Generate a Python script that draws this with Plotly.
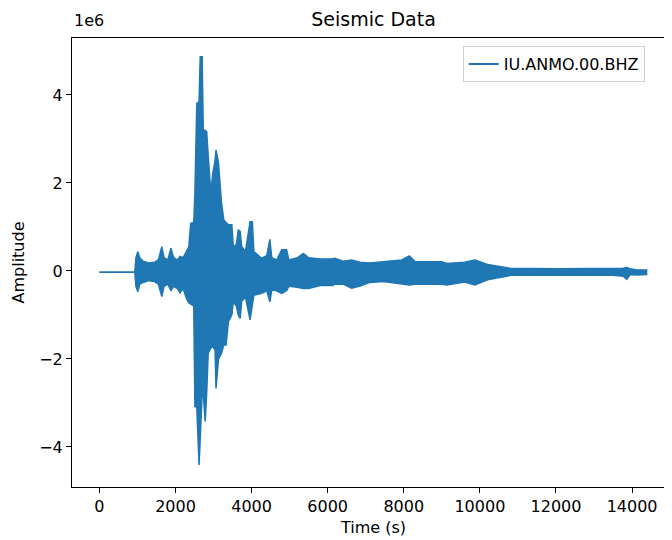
import plotly.graph_objects as go

# Envelope of the trace (time in s, amplitude in units of 1e6)
times = [0, 930, 960, 1010, 1060, 1150, 1300, 1450, 1550, 1640, 1700, 1800, 1880,
         1950, 2050, 2120, 2200, 2300, 2350, 2400, 2480, 2510, 2560, 2620, 2650,
         2700, 2730, 2780, 2820, 2860, 2930, 2980, 3040, 3065, 3130, 3210, 3270,
         3330, 3390, 3480, 3520, 3600, 3650, 3700, 3740, 3840, 3960, 4020, 4060,
         4265, 4400, 4480, 4530, 4660, 4790, 4920, 4980, 5200, 5360, 5500, 5800,
         6130, 6190, 6400, 6630, 6850, 7110, 7460, 7945, 8145, 8300, 9000, 9130,
         9600, 9870, 10200, 10700, 10800, 12000, 13500, 13770, 13860, 13950,
         14100, 14400]
upper = [-0.03, -0.03, 0.30, 0.44, 0.30, 0.22, 0.18, 0.20, 0.25, 0.55, 0.30, 0.25,
         0.52, 0.30, 0.25, 0.33, 0.30, 0.45, 0.55, 1.08, 1.10, 1.77, 3.81, 3.85,
         4.87, 4.87, 3.20, 3.20, 3.17, 2.60, 1.77, 2.22, 2.50, 2.75, 2.45, 1.54,
         1.16, 1.10, 1.05, 1.05, 0.55, 0.60, 0.93, 0.90, 0.55, 0.45, 1.12, 1.12,
         0.44, 0.29, 0.35, 0.72, 0.30, 0.25, 0.48, 0.48, 0.25, 0.30, 0.40, 0.30,
         0.27, 0.28, 0.29, 0.22, 0.25, 0.20, 0.18, 0.21, 0.25, 0.34, 0.21, 0.21,
         0.17, 0.20, 0.25, 0.15, 0.08, 0.06, 0.05, 0.06, 0.06, 0.08, 0.05, 0.03,
         0.02]
lower = [-0.03, -0.03, -0.35, -0.47, -0.30, -0.26, -0.22, -0.24, -0.30, -0.58,
         -0.35, -0.30, -0.45, -0.35, -0.40, -0.50, -0.40, -0.65, -0.72, -0.75,
         -0.80, -3.08, -3.10, -4.41, -3.80, -2.80, -2.78, -3.42, -2.78, -1.87,
         -1.75, -1.72, -1.80, -2.67, -2.00, -1.87, -1.68, -1.68, -1.15, -1.00,
         -0.70, -0.80, -1.00, -1.08, -0.68, -0.60, -1.11, -0.70, -0.55, -0.51,
         -0.45, -0.70, -0.43, -0.45, -0.51, -0.45, -0.35, -0.37, -0.40, -0.40,
         -0.33, -0.33, -0.30, -0.30, -0.39, -0.34, -0.26, -0.24, -0.30, -0.32,
         -0.30, -0.30, -0.32, -0.25, -0.32, -0.20, -0.12, -0.10, -0.10, -0.10,
         -0.12, -0.19, -0.08, -0.09, -0.08]

x_ticks = [0, 2000, 4000, 6000, 8000, 10000, 12000, 14000]
y_ticks = [-4, -2, 0, 2, 4]

color = '#1f77b4'
font = 'DejaVu Sans'

fig = go.Figure()

fig.add_trace(go.Scatter(x=times, y=upper, mode='lines',
                         line=dict(color=color, width=1.5), showlegend=False,
                         hoverinfo='skip'))
fig.add_trace(go.Scatter(x=times, y=lower, mode='lines', fill='tonexty',
                         fillcolor=color, line=dict(color=color, width=1.5),
                         showlegend=False, hoverinfo='skip'))
# legend entry only
fig.add_trace(go.Scatter(x=[None], y=[None], mode='lines', name='IU.ANMO.00.BHZ',
                         line=dict(color=color, width=2)))

# the page body adds an 8px offset, margins are set with that in mind
fig.update_layout(
    width=672, height=540,
    margin=dict(l=64, r=5, t=30, b=61),
    paper_bgcolor='white', plot_bgcolor='white',
    font=dict(family=font, size=16, color='black'),
    title=dict(text='Seismic Data', x=365.5 / 672, xanchor='center',
               y=1 - 11 / 540, yanchor='middle', yref='container',
               font=dict(size=19)),
    legend=dict(x=0.648, y=0.982, xanchor='left', yanchor='top',
                bordercolor='#d0d0d0', borderwidth=1, bgcolor='white',
                font=dict(size=16)),
    annotations=[dict(text='1e6', xref='paper', yref='paper', x=0, y=1.013,
                      xanchor='left', yanchor='bottom', showarrow=False,
                      font=dict(size=16))],
)

fig.update_xaxes(range=[-720, 15128], tickvals=x_ticks,
                 ticktext=[str(v) for v in x_ticks],
                 ticks='outside', ticklen=5, tickcolor='black',
                 showline=True, linecolor='black', linewidth=1, mirror=True,
                 showgrid=False, zeroline=False, automargin=False,
                 title=dict(text='Time (s)', standoff=6, font=dict(size=16)))
fig.update_yaxes(range=[-4.91, 5.295], tickvals=y_ticks,
                 ticks='outside', ticklen=5, tickcolor='black',
                 showline=True, linecolor='black', linewidth=1,
                 showgrid=False, zeroline=False, automargin=False,
                 title=dict(text='Amplitude', standoff=10, font=dict(size=16)))

fig.write_html("out.html")
